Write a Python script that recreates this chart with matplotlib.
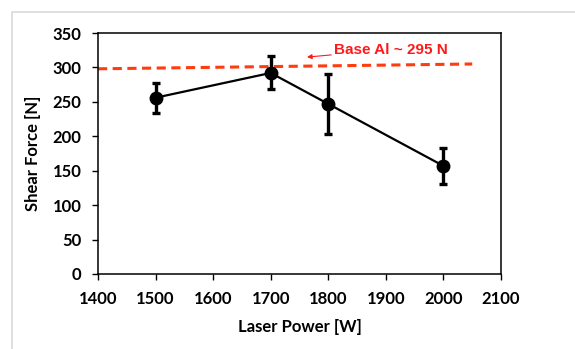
"""
Shear force versus laser power with error bars and base Al reference.
"""

import matplotlib
matplotlib.use("Agg")
import matplotlib.pyplot as plt
from matplotlib.patches import Rectangle

LASER_POWER = [1500, 1700, 1800, 2000]
SHEAR_FORCE = [256, 292, 247, 157]
FORCE_ERROR = [22, 24, 44, 26]

BASE_X = [1400, 2050]
BASE_Y = [298, 305]
BASE_LABEL = "Base Al ~ 295 N"

X_TICKS = [1400, 1500, 1600, 1700, 1800, 1900, 2000, 2100]
Y_TICKS = [0, 50, 100, 150, 200, 250, 300, 350]


def create_chart() -> None:
    """Draw the shear force chart and save it."""
    plt.rcParams["font.family"] = ["Lato", "DejaVu Sans"]
    fig = plt.figure(figsize=(5.75, 3.49), dpi=100)

    # light grey frame around the chart area
    fig.patches.append(
        Rectangle((12 / 575, -0.1), 1.2, 1 - 12 / 349 + 0.1,
                  transform=fig.transFigure, fill=False,
                  edgecolor="#d9d9d9", linewidth=1.2)
    )

    ax = fig.add_axes([98 / 575, 1 - 274 / 349, 403 / 575, 241 / 349])

    ax.plot(BASE_X, BASE_Y, color="#ff3c0f", linestyle=(0, (3, 1.8)),
            linewidth=2.2, zorder=2)

    ax.errorbar(LASER_POWER, SHEAR_FORCE, yerr=FORCE_ERROR, color="black",
                marker="o", markersize=9, linewidth=1.6, elinewidth=2.4,
                capsize=3, capthick=2.4, zorder=3)

    ax.annotate(BASE_LABEL, xy=(1763, 315), xytext=(1810, 326),
                color="#ff1a1a", fontsize=11, fontweight="bold",
                family=["Liberation Sans", "DejaVu Sans"], va="center",
                arrowprops=dict(arrowstyle="-|>", color="#ff1a1a",
                                linewidth=0.8, mutation_scale=7,
                                shrinkA=0, shrinkB=0))

    ax.set_xlim(1400, 2100)
    ax.set_ylim(0, 350)
    ax.set_xticks(X_TICKS)
    ax.set_yticks(Y_TICKS)
    ax.tick_params(direction="out", length=4, width=1, labelsize=12)
    for label in ax.get_xticklabels() + ax.get_yticklabels():
        label.set_fontweight("bold")
    ax.tick_params(axis="x", pad=8)
    ax.tick_params(axis="y", pad=8)

    for spine in ax.spines.values():
        spine.set_linewidth(1.1)

    ax.set_xlabel("Laser Power [W]", fontsize=12, fontweight="bold",
                  labelpad=9)
    ax.set_ylabel("Shear Force [N]", fontsize=12, fontweight="bold",
                  labelpad=8)

    fig.savefig("out.png", dpi=100)


if __name__ == "__main__":
    create_chart()
